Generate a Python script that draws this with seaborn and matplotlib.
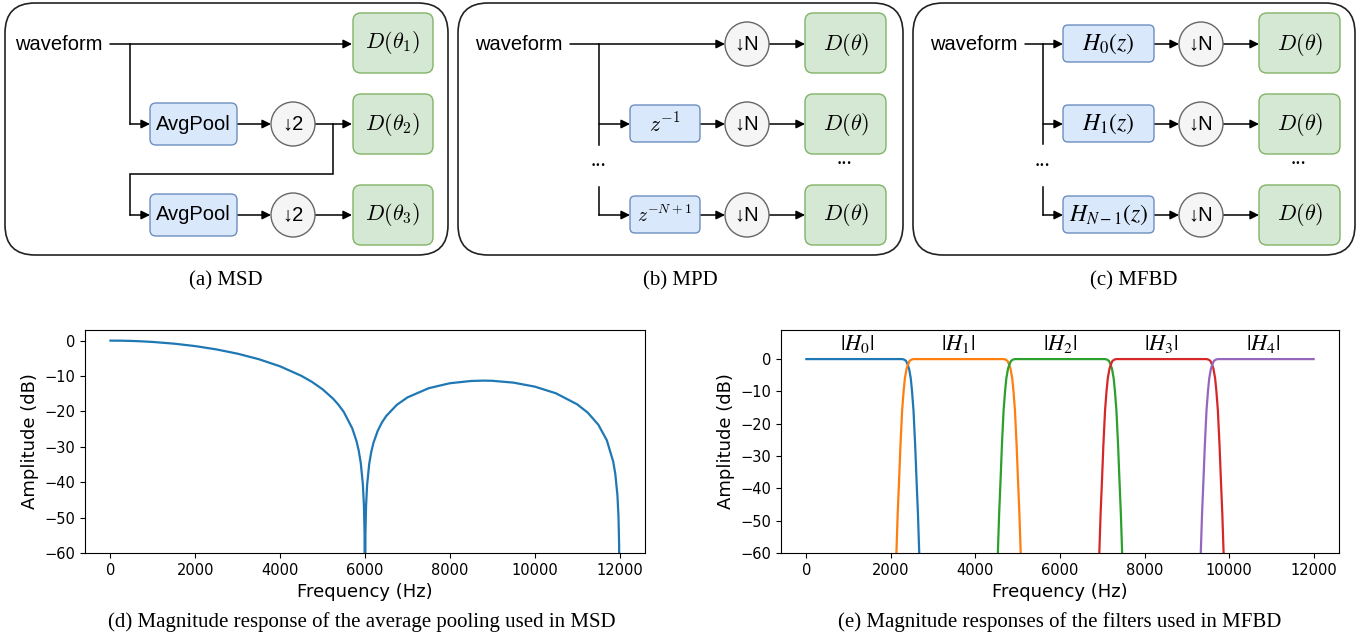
import numpy as np
import pandas as pd
import matplotlib
matplotlib.use("Agg")
import matplotlib.pyplot as plt
import seaborn as sns
from matplotlib.patches import FancyBboxPatch, Circle

# ---------------- data ----------------
# (d) magnitude response of the average pooling
msd_freq = [0, 250, 500, 750, 1000, 1500, 2000, 2500, 3000, 3500, 4000, 4500, 4750,
            5000, 5250, 5375, 5500, 5700, 5800, 5850, 5900, 5950, 5975, 5990, 6000,
            6010, 6025, 6050, 6100, 6150, 6200, 6300, 6400, 6500, 6750, 7000, 7500,
            8000, 8500, 8800, 9000, 9500, 10000, 10500, 11000, 11250, 11500, 11700,
            11850, 11900, 11950, 11975, 11990, 12000]
msd_db = [0, -0.02, -0.09, -0.21, -0.38, -0.86, -1.55, -2.49, -3.70, -5.26, -7.27, -9.95, -11.66,
          -13.75, -16.43, -18.12, -20.16, -24.79, -28.41, -30.96, -34.54, -40.61, -46.66, -54.64, -120,
          -54.66, -46.72, -40.73, -34.77, -31.30, -28.86, -25.47, -23.11, -21.30, -18.14, -16.05, -13.45,
          -12.04, -11.40, -11.30, -11.35, -11.87, -12.99, -14.88, -17.99, -20.34, -23.76, -28.15,
          -34.15, -37.66, -43.68, -49.70, -57.66, -120]

# (e) magnitude responses of the five sub-band filters
h0_freq = [0, 2270, 2320, 2360, 2400, 2430, 2470, 2500, 2535, 2575, 2605, 2640, 2670, 2690]
h0_db = [0, 0, -0.2, -0.6, -1.8, -3, -6, -10, -16, -27, -37, -48, -60, -70]
h1_freq = [2110, 2130, 2160, 2195, 2225, 2265, 2300, 2330, 2370, 2400, 2440, 2480, 2530,
           4670, 4720, 4760, 4800, 4830, 4870, 4900, 4935, 4975, 5005, 5040, 5070, 5090]
h1_db = [-70, -60, -48, -37, -27, -16, -10, -6, -3, -1.8, -0.6, -0.2, 0,
         0, -0.2, -0.6, -1.8, -3, -6, -10, -16, -27, -37, -48, -60, -70]
h2_freq = [4510, 4530, 4560, 4595, 4625, 4665, 4700, 4730, 4770, 4800, 4840, 4880, 4930,
           7070, 7120, 7160, 7200, 7230, 7270, 7300, 7335, 7375, 7405, 7440, 7470, 7490]
h2_db = [-70, -60, -48, -37, -27, -16, -10, -6, -3, -1.8, -0.6, -0.2, 0,
         0, -0.2, -0.6, -1.8, -3, -6, -10, -16, -27, -37, -48, -60, -70]
h3_freq = [6910, 6930, 6960, 6995, 7025, 7065, 7100, 7130, 7170, 7200, 7240, 7280, 7330,
           9470, 9520, 9560, 9600, 9630, 9670, 9700, 9735, 9775, 9805, 9840, 9870, 9890]
h3_db = [-70, -60, -48, -37, -27, -16, -10, -6, -3, -1.8, -0.6, -0.2, 0,
         0, -0.2, -0.6, -1.8, -3, -6, -10, -16, -27, -37, -48, -60, -70]
h4_freq = [9310, 9330, 9360, 9395, 9425, 9465, 9500, 9530, 9570, 9600, 9640, 9680, 9730, 12000]
h4_db = [-70, -60, -48, -37, -27, -16, -10, -6, -3, -1.8, -0.6, -0.2, 0, 0]

filter_labels = [r"$|H_0|$", r"$|H_1|$", r"$|H_2|$", r"$|H_3|$", r"$|H_4|$"]
filter_label_freq = [1200, 3600, 6000, 8400, 10800]

# diagram texts
msd_filters = ["AvgPool", "AvgPool"]
msd_discs = [r"$D(\theta_1)$", r"$D(\theta_2)$", r"$D(\theta_3)$"]
mpd_delays = [r"$z^{-1}$", r"$z^{-N+1}$"]
mfbd_filters = [r"$H_0(z)$", r"$H_1(z)$", r"$H_{N-1}(z)$"]
captions_top = ["(a) MSD", "(b) MPD", "(c) MFBD"]
captions_bottom = ["(d) Magnitude response of the average pooling used in MSD",
                   "(e) Magnitude responses of the filters used in MFBD"]

# ---------------- figure ----------------
fig = plt.figure(figsize=(13.69, 6.39), dpi=100)
dax = fig.add_axes([0, 0, 1, 1])
dax.set_xlim(0, 1369)
dax.set_ylim(639, 0)
dax.axis("off")

SANS = ["Liberation Sans", "DejaVu Sans"]
SERIF = ["Liberation Serif", "DejaVu Serif"]
BLUE_FC, BLUE_EC = "#dae8fc", "#6c8ebf"
GREEN_FC, GREEN_EC = "#d5e8d4", "#82b366"
GRAY_FC, GRAY_EC = "#f5f5f5", "#666666"


def rbox(x0, y0, x1, y1, fc, ec, r, lw=1.0):
    dax.add_patch(FancyBboxPatch((x0, y0), x1 - x0, y1 - y0,
                                 boxstyle=f"round,pad=0,rounding_size={r}",
                                 fc=fc, ec=ec, lw=lw, zorder=2))


def arrow(pts):
    xs = [p[0] for p in pts]
    ys = [p[1] for p in pts]
    if len(pts) > 2:
        dax.plot(xs[:-1], ys[:-1], color="black", lw=1.1, zorder=1,
                 solid_joinstyle="miter")
    dax.annotate("", xy=pts[-1], xytext=pts[-2],
                 arrowprops=dict(arrowstyle="-|>", color="black", lw=1.1,
                                 shrinkA=0, shrinkB=0, mutation_scale=13),
                 zorder=1)


def line(pts):
    dax.plot([p[0] for p in pts], [p[1] for p in pts], color="black", lw=1.1, zorder=1)


def circ(cx, cy, label):
    dax.add_patch(Circle((cx, cy), 22, fc=GRAY_FC, ec=GRAY_EC, lw=1.0, zorder=2))
    dax.text(cx, cy, label, ha="center", va="center", fontsize=14.5,
             family=SANS, zorder=3)


def mtext(x, y, s, ff="cm", size=16):
    dax.text(x, y, s, ha="center", va="center", fontsize=size,
             math_fontfamily=ff, zorder=3)


def dots(x, y):
    dax.text(x, y, "...", ha="center", va="center", fontsize=15, family=SERIF)


ROWS = [44, 124, 215]
DBOX = [(13, 73), (94, 154), (185, 245)]

# ---- (a) MSD ----
rbox(5, 3, 448, 255, "none", "#222222", 30, lw=1.2)
dax.text(15, 44, "waveform", ha="left", va="center", fontsize=14.5, family=SANS)
arrow([(110, 44), (352, 44)])
arrow([(130, 44), (130, 124), (150, 124)])
arrow([(333, 124), (333, 174), (130, 174), (130, 215), (150, 215)])
for i, y in enumerate(ROWS[1:]):
    rbox(150, y - 21, 237, y + 21, BLUE_FC, BLUE_EC, 6)
    dax.text(193.5, y, msd_filters[i], ha="center", va="center", fontsize=14.5,
             family=SANS, zorder=3)
    arrow([(237, y), (271, y)])
    circ(293, y, "↓2")
    arrow([(315, y), (352, y)])
for i, (y0, y1) in enumerate(DBOX):
    rbox(353, y0, 433, y1, GREEN_FC, GREEN_EC, 8)
    mtext(393, (y0 + y1) / 2, msd_discs[i])
dax.text(226, 281, captions_top[0], ha="center", va="center", fontsize=15, family=SERIF)

# ---- (b) MPD ----
rbox(458, 3, 903, 255, "none", "#222222", 30, lw=1.2)
dax.text(475, 44, "waveform", ha="left", va="center", fontsize=14.5, family=SANS)
arrow([(570, 44), (725, 44)])
line([(599, 44), (599, 145)])
arrow([(599, 124), (630, 124)])
arrow([(599, 187), (599, 215), (630, 215)])
dots(599, 162)
for i, y in enumerate(ROWS[1:]):
    rbox(630, y - 19, 700, y + 18, BLUE_FC, BLUE_EC, 5)
    mtext(665, y, mpd_delays[i], size=15.5 if i == 0 else 14)
    arrow([(700, y), (725, y)])
for i, y in enumerate(ROWS):
    circ(747, y, "↓N")
    arrow([(769, y), (805, y)])
    rbox(805, DBOX[i][0], 886, DBOX[i][1], GREEN_FC, GREEN_EC, 8)
    mtext(845.5, y, r"$D(\theta)$")
dots(845, 160)
dax.text(680, 281, captions_top[1], ha="center", va="center", fontsize=15, family=SERIF)

# ---- (c) MFBD ----
rbox(913, 3, 1355, 255, "none", "#222222", 30, lw=1.2)
dax.text(930, 44, "waveform", ha="left", va="center", fontsize=14.5, family=SANS)
arrow([(1025, 44), (1063, 44)])
line([(1043, 44), (1043, 144)])
arrow([(1043, 124), (1063, 124)])
arrow([(1043, 187), (1043, 215), (1063, 215)])
dots(1042, 162)
for i, y in enumerate(ROWS):
    rbox(1063, y - 19, 1154, y + 18, BLUE_FC, BLUE_EC, 5)
    mtext(1108.5, y, mfbd_filters[i], ff="stix", size=17)
    arrow([(1154, y), (1179, y)])
    circ(1201, y, "↓N")
    arrow([(1223, y), (1259, y)])
    rbox(1259, DBOX[i][0], 1340, DBOX[i][1], GREEN_FC, GREEN_EC, 8)
    mtext(1299.5, y, r"$D(\theta)$")
dots(1299, 160)
dax.text(1134, 281, captions_top[2], ha="center", va="center", fontsize=15, family=SERIF)

# bottom captions
dax.text(362, 622, captions_bottom[0], ha="center", va="center", fontsize=15, family=SERIF)
dax.text(1060, 622, captions_bottom[1], ha="center", va="center", fontsize=15, family=SERIF)

# ---------------- (d) plot ----------------
W, H = 1369, 639
ax_d = fig.add_axes([85 / W, 1 - 553 / H, 560 / W, 223 / H])
df_d = pd.DataFrame({"freq": msd_freq, "db": msd_db})
sns.lineplot(data=df_d, x="freq", y="db", ax=ax_d, color="#1f77b4", lw=1.6,
             estimator=None)
ax_d.set_xlim(-600, 12600)
ax_d.set_ylim(-60, 3)
ax_d.set_xlabel("Frequency (Hz)", fontsize=13)
ax_d.set_ylabel("Amplitude (dB)", fontsize=13)
ax_d.tick_params(labelsize=10.5)

# ---------------- (e) plot ----------------
ax_e = fig.add_axes([781 / W, 1 - 553 / H, 558 / W, 223 / H])
frames = []
for name, f, d in zip(["H0", "H1", "H2", "H3", "H4"],
                      [h0_freq, h1_freq, h2_freq, h3_freq, h4_freq],
                      [h0_db, h1_db, h2_db, h3_db, h4_db]):
    frames.append(pd.DataFrame({"freq": f, "db": d, "filter": name}))
df_e = pd.concat(frames, ignore_index=True)
sns.lineplot(data=df_e, x="freq", y="db", hue="filter", ax=ax_e,
             palette=["#1f77b4", "#ff7f0e", "#2ca02c", "#d62728", "#9467bd"],
             lw=1.6, estimator=None, legend=False)
ax_e.set_xlim(-600, 12600)
ax_e.set_ylim(-60, 9)
ax_e.set_xlabel("Frequency (Hz)", fontsize=13)
ax_e.set_ylabel("Amplitude (dB)", fontsize=13)
ax_e.tick_params(labelsize=10.5)
for lab, fx in zip(filter_labels, filter_label_freq):
    ax_e.text(fx, 4.6, lab, ha="center", va="center", fontsize=16,
              math_fontfamily="stix")

fig.savefig("out.png", dpi=100)
